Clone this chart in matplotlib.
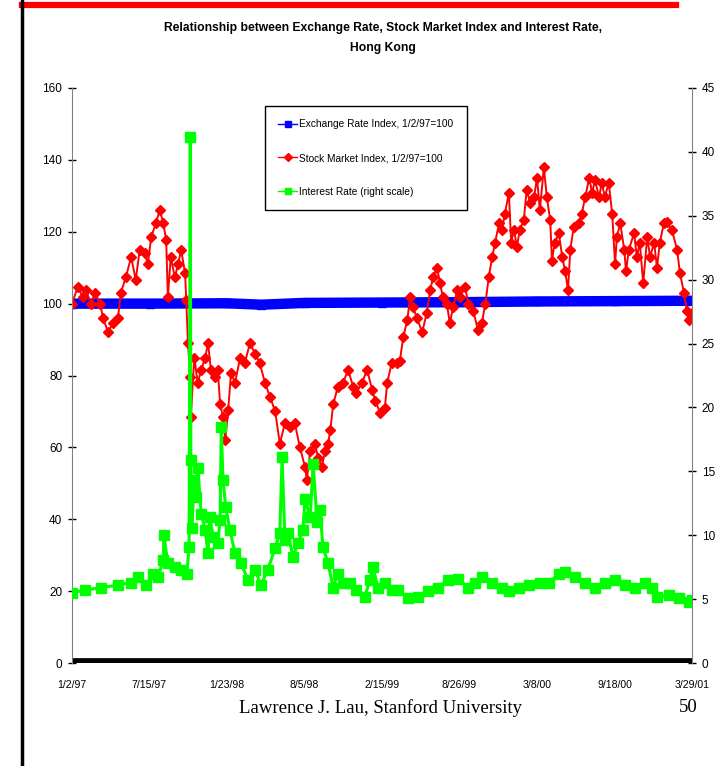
import matplotlib
matplotlib.use("Agg")
import matplotlib.pyplot as plt
from matplotlib.lines import Line2D

# x axis is trading-day count from 1/2/97; labels every 135 days
tick_days = [0, 135, 270, 405, 540, 675, 810, 945, 1080]
tick_labels = ['1/2/97', '7/15/97', '1/23/98', '8/5/98', '2/15/99',
               '8/26/99', '3/8/00', '9/18/00', '3/29/01']

# exchange rate index (1/2/97=100)
fx_days = [0, 135, 270, 330, 405, 540, 675, 810, 945, 1080]
fx_vals = [100.0, 100.0, 100.1, 99.7, 100.2, 100.3, 100.4, 100.6, 100.7, 100.8]

# stock market index (1/2/97=100)
stk_days = [0, 10, 19, 24, 33, 40, 49, 54, 63, 71, 80, 85, 94, 103, 111, 118, 127, 132,
            138, 146, 153, 159, 164, 167, 172, 179, 185, 190, 197, 199, 202, 206, 207,
            213, 219, 225, 232, 237, 242, 249, 254, 258, 263, 267, 272, 277, 284, 293,
            301, 310, 319, 327, 336, 345, 354, 362, 371, 380, 388, 397, 406, 409, 415,
            423, 429, 435, 441, 446, 450, 455, 463, 472, 481, 490, 495, 505, 514, 523,
            528, 537, 545, 549, 557, 566, 571, 577, 584, 589, 594, 601, 610, 618, 624,
            629, 636, 641, 646, 653, 658, 664, 671, 676, 685, 690, 699, 707, 714, 720,
            726, 732, 737, 744, 749, 754, 761, 765, 770, 775, 780, 787, 792, 798, 805,
            810, 815, 822, 827, 833, 836, 841, 848, 854, 859, 864, 868, 874, 883, 888,
            894, 901, 906, 911, 918, 923, 928, 935, 941, 946, 949, 955, 962, 965, 970,
            979, 984, 989, 995, 1002, 1007, 1014, 1019, 1024, 1031, 1036, 1045, 1054,
            1059, 1066, 1071, 1075, 1080]
stk_vals = [100.0, 104.6, 101.8, 103.8, 100.0, 103.0, 100.0, 96.0, 92.0, 94.6, 96.0, 103.0,
            107.4, 113.0, 106.6, 115.0, 114.0, 111.0, 118.5, 122.4, 126.0, 122.4, 117.7,
            101.8, 113.0, 107.4, 111.0, 115.0, 108.5, 101.0, 89.0, 79.6, 68.5, 85.0, 78.0,
            81.5, 85.0, 89.0, 81.5, 79.6, 81.5, 72.0, 68.5, 62.0, 70.4, 80.7, 78.0, 85.0,
            83.5, 89.0, 86.0, 83.5, 78.0, 74.0, 70.0, 61.0, 66.8, 65.7, 66.8, 60.0, 54.5,
            51.0, 59.0, 61.0, 57.0, 54.5, 59.0, 61.0, 64.8, 72.0, 76.8, 78.0, 81.5, 76.8,
            75.0, 78.0, 81.5, 76.0, 73.0, 69.6, 71.0, 78.0, 83.5, 83.5, 84.0, 90.7, 95.4,
            101.8, 99.0, 96.0, 92.0, 97.4, 103.8, 107.4, 110.0, 105.7, 101.8, 100.0, 94.6,
            99.0, 103.8, 101.8, 104.6, 100.0, 98.0, 92.7, 94.6, 100.0, 107.4, 113.0, 117.0,
            122.4, 120.5, 125.0, 130.8, 117.0, 120.5, 115.8, 120.5, 123.3, 131.6, 128.0,
            129.7, 135.0, 126.0, 138.0, 129.7, 123.3, 112.0, 117.0, 119.6, 113.0, 109.0,
            103.8, 115.0, 121.3, 122.4, 125.0, 129.7, 135.0, 130.8, 134.4, 129.7, 133.6,
            129.7, 133.6, 125.0, 111.0, 118.5, 122.4, 115.0, 109.0, 115.0, 119.6, 113.0,
            117.0, 105.7, 118.5, 113.0, 117.0, 110.0, 117.0, 122.4, 122.7, 120.5, 115.0,
            108.5, 103.0, 98.0, 95.4, 97.4]

# interest rate, % (right scale)
ir_days = [0, 23, 51, 80, 103, 115, 129, 141, 150, 159, 160, 167, 179, 190, 200, 204, 206,
           207, 209, 213, 216, 219, 225, 232, 237, 240, 246, 254, 258, 260, 263, 268, 275,
           284, 294, 307, 319, 329, 341, 354, 362, 366, 371, 376, 385, 394, 402, 406, 415,
           420, 427, 432, 437, 446, 455, 463, 472, 484, 495, 510, 519, 524, 533, 545, 557,
           568, 585, 603, 620, 638, 655, 672, 690, 702, 714, 732, 749, 761, 779, 796, 815,
           831, 848, 859, 876, 894, 911, 928, 946, 963, 981, 998, 1010, 1019, 1040, 1057,
           1075, 1080]
ir_vals = [5.5, 5.7, 5.9, 6.1, 6.3, 6.7, 6.1, 7.0, 6.7, 8.1, 10.0, 7.8, 7.5, 7.3, 7.0, 9.1,
           41.2, 15.9, 10.6, 14.3, 13.0, 15.3, 11.7, 10.4, 8.6, 11.4, 9.9, 9.4, 11.2, 18.5,
           14.3, 12.2, 10.4, 8.6, 7.8, 6.5, 7.3, 6.1, 7.3, 9.0, 10.2, 16.1, 9.6, 10.2, 8.3,
           9.4, 10.4, 12.8, 11.4, 15.6, 11.0, 12.0, 9.1, 7.8, 5.9, 7.0, 6.3, 6.3, 5.7, 5.2,
           6.5, 7.5, 5.9, 6.3, 5.7, 5.7, 5.1, 5.2, 5.6, 5.9, 6.5, 6.6, 5.9, 6.3, 6.7, 6.3,
           5.9, 5.6, 5.9, 6.1, 6.3, 6.3, 7.0, 7.1, 6.7, 6.3, 5.9, 6.3, 6.5, 6.1, 5.9, 6.3,
           5.9, 5.2, 5.3, 5.1, 4.8, 4.9]

sans = ['Liberation Sans', 'DejaVu Sans']
serif = ['Liberation Serif', 'DejaVu Serif']
GREEN = '#00ff00'

fig = plt.figure(figsize=(7.27, 7.66), dpi=100)

# slide decoration: red rule on top and black rule at left
fig.add_artist(Line2D([22 / 727, 676 / 727], [1 - 5 / 766, 1 - 5 / 766], color='red', lw=4.5))
fig.add_artist(Line2D([22 / 727, 22 / 727], [0, 1], color='black', lw=2.5))

fig.text(0.527, 1 - 28 / 766, 'Relationship between Exchange Rate, Stock Market Index and Interest Rate,',
         ha='center', va='center', fontsize=8.7, fontweight='bold', family=sans)
fig.text(0.527, 1 - 48 / 766, 'Hong Kong', ha='center', va='center',
         fontsize=8.7, fontweight='bold', family=sans)

ax = fig.add_axes([72 / 727, 1 - 663 / 766, 620 / 727, 575 / 766])
ax2 = ax.twinx()

ax.plot(fx_days, fx_vals, color='blue', lw=7.5, marker='s', ms=6, solid_capstyle='butt')
ax.plot(stk_days, stk_vals, color='red', lw=1.4, marker='D', ms=5.5)
ax.axhline(0, color='black', lw=7)
ax2.plot(ir_days, ir_vals, color=GREEN, lw=2.2, marker='s', ms=6.5)

ax.set_xlim(0, 1080)
ax.set_ylim(0, 160)
ax2.set_ylim(0, 45)
ax.set_yticks(range(0, 161, 20))
ax2.set_yticks(range(0, 46, 5))
ax.set_xticks(tick_days)
ax.set_xticklabels(tick_labels)

for a in (ax, ax2):
    for s in a.spines.values():
        s.set_visible(False)
    for lab in a.get_yticklabels():
        lab.set_family(sans)
        lab.set_fontsize(8.5)
for lab in ax.get_xticklabels():
    lab.set_family(sans)
    lab.set_fontsize(7.6)
ax.spines['left'].set_visible(True)
ax.spines['left'].set_color('#808080')
ax2.spines['right'].set_visible(True)
ax2.spines['right'].set_color('#808080')
ax.tick_params(axis='y', direction='inout', length=6, width=1, pad=4)
ax2.tick_params(axis='y', direction='inout', length=6, width=1, pad=4)
ax.tick_params(axis='x', length=0, pad=12)
ax.patch.set_visible(False)

handles = [Line2D([], [], color='blue', lw=1, marker='s', ms=5),
           Line2D([], [], color='red', lw=1, marker='D', ms=4),
           Line2D([], [], color=GREEN, lw=1, marker='s', ms=5)]
labels = ['Exchange Rate Index, 1/2/97=100', 'Stock Market Index, 1/2/97=100',
          'Interest Rate (right scale)']
leg = ax2.legend(handles, labels, loc='upper left', bbox_to_anchor=((265 - 72) / 620, (663 - 106) / 575),
                 prop={'family': sans, 'size': 7.3}, frameon=True, fancybox=False, framealpha=1,
                 edgecolor='black', labelspacing=2.35, handlelength=1.9, handletextpad=0.2,
                 borderpad=1.3, borderaxespad=0)
leg.get_frame().set_linewidth(1.0)

fig.text(381 / 727, 1 - 708 / 766, 'Lawrence J. Lau, Stanford University', ha='center', va='center',
         fontsize=13.5, family=serif)
fig.text(698 / 727, 1 - 708 / 766, '50', ha='right', va='center', fontsize=13.5, family=serif)

fig.savefig('out.png', dpi=100)
